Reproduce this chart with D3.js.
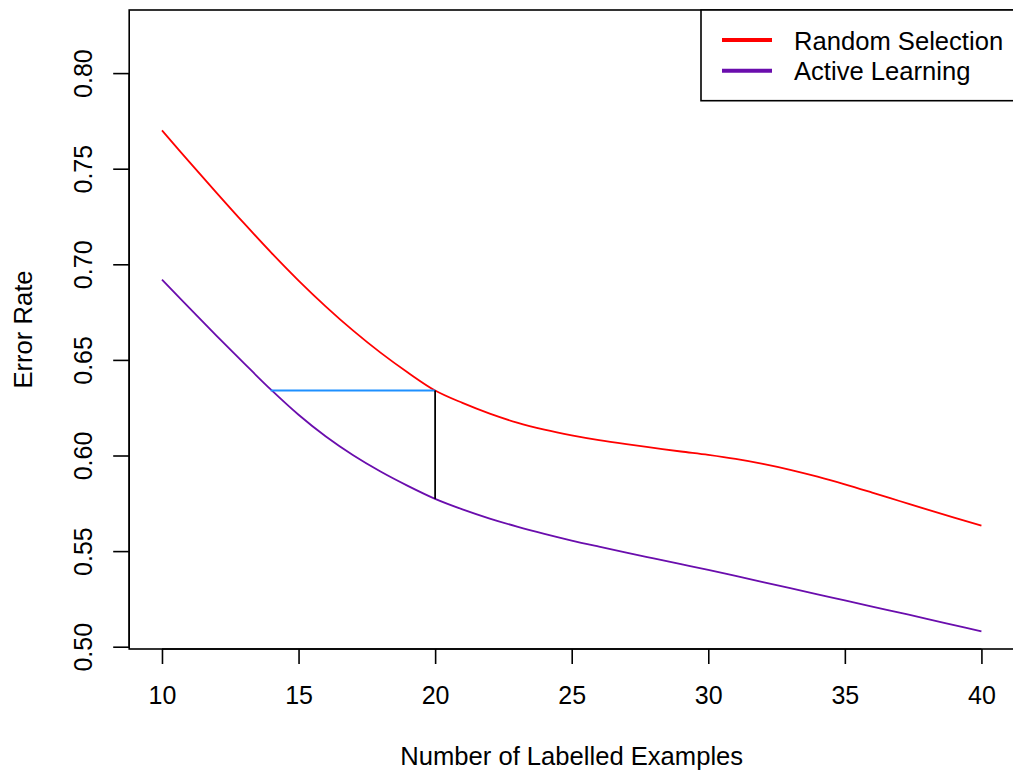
<!DOCTYPE html>
<html>
<head>
<meta charset="utf-8">
<script src="https://cdn.jsdelivr.net/npm/d3@7"></script>
<style>
  html, body { margin: 0; padding: 0; background: #ffffff; }
  svg { display: block; }
  text { font-family: "Liberation Sans", Arial, Helvetica, sans-serif; fill: #000; }
</style>
</head>
<body>
<svg id="chart" width="1013" height="771"></svg>
<script>
// ---- data ----
const labelledExamples = [10,11,12,13,14,15,16,17,18,19,20,21,22,23,24,25,26,27,28,29,30,31,32,33,34,35,36,37,38,39,40];
const randomSelection = [0.7700,0.7536,0.7374,0.7215,0.7061,0.6915,0.6779,0.6653,0.6538,0.6434,0.6340,0.6275,0.6219,0.6172,0.6135,0.6105,0.6080,0.6059,0.6040,0.6021,0.6003,0.5982,0.5956,0.5925,0.5889,0.5849,0.5806,0.5762,0.5718,0.5675,0.5633];
const activeLearning = [0.6920,0.6772,0.6626,0.6483,0.6343,0.6213,0.6099,0.6001,0.5916,0.5841,0.5773,0.5718,0.5670,0.5628,0.5590,0.5555,0.5523,0.5492,0.5462,0.5432,0.5402,0.5370,0.5338,0.5306,0.5274,0.5242,0.5210,0.5178,0.5146,0.5113,0.5080];
const seriesNames = ["Random Selection", "Active Learning"];
const xTicks = [10,15,20,25,30,35,40];
const yTicks = [0.50,0.55,0.60,0.65,0.70,0.75,0.80];
const yTickLabels = ["0.50","0.55","0.60","0.65","0.70","0.75","0.80"];
// highlighted comparison: active learning reaches random-selection error at 20 with ~14 examples
const compareAt = 20;
const matchedAt = 13.98;
const xLabel = "Number of Labelled Examples";
const yLabel = "Error Rate";

// ---- layout ----
const svg = d3.select("#chart");
const pLeft = 129.2, pRight = 1014.2, pTop = 10, pBottom = 649;
const x = d3.scaleLinear().domain([8.8, 41.2]).range([pLeft, pRight]);
const y = d3.scaleLinear().domain([0.4988, 0.833]).range([pBottom, pTop]);
const colors = ["#FF0000", "#6A0DAD"];
const tickFont = 25;
const labelFont = 25.6;

// frame
svg.append("rect")
  .attr("x", pLeft).attr("y", pTop)
  .attr("width", pRight - pLeft).attr("height", pBottom - pTop)
  .attr("fill", "none").attr("stroke", "#000").attr("stroke-width", 1.6);

// x axis
const xAxis = svg.append("g").attr("transform", `translate(0,${pBottom})`)
  .call(d3.axisBottom(x).tickValues(xTicks).tickSize(15).tickSizeOuter(0).tickPadding(22).tickFormat(d3.format("d")));
xAxis.select(".domain").attr("d", `M${x(xTicks[0])},0H${x(xTicks[xTicks.length-1])}`).attr("stroke-width", 1.6);
xAxis.selectAll(".tick line").attr("stroke-width", 1.6);
xAxis.selectAll(".tick text").attr("font-size", tickFont).attr("font-family", "Liberation Sans, Arial, sans-serif").attr("fill", "#000");

// y axis
const yAxis = svg.append("g").attr("transform", `translate(${pLeft},0)`)
  .call(d3.axisLeft(y).tickValues(yTicks).tickSize(16).tickSizeOuter(0).tickFormat((d, i) => yTickLabels[i]));
yAxis.select(".domain").attr("d", `M0,${y(yTicks[0])}V${y(yTicks[yTicks.length-1])}`).attr("stroke-width", 1.6);
yAxis.selectAll(".tick line").attr("stroke-width", 1.6);
yAxis.selectAll(".tick text")
  .attr("font-size", tickFont).attr("font-family", "Liberation Sans, Arial, sans-serif").attr("fill", "#000")
  .attr("x", null).attr("dy", null)
  .attr("text-anchor", "middle")
  .attr("transform", "translate(-37.5,0) rotate(-90)");

// axis titles
svg.append("text").attr("x", (pLeft + pRight) / 2).attr("y", 765)
  .attr("text-anchor", "middle").attr("font-size", labelFont).text(xLabel);
svg.append("text").attr("transform", `translate(31.7,${(pTop + pBottom) / 2}) rotate(-90)`)
  .attr("text-anchor", "middle").attr("font-size", labelFont).text(yLabel);

// curves
const line = d3.line().x(d => x(d[0])).y(d => y(d[1])).curve(d3.curveCatmullRom.alpha(0.5));
[randomSelection, activeLearning].forEach((vals, i) => {
  svg.append("path")
    .datum(labelledExamples.map((e, j) => [e, vals[j]]))
    .attr("d", line)
    .attr("fill", "none").attr("stroke", colors[i]).attr("stroke-width", 1.8);
});

// comparison segments
const idx = labelledExamples.indexOf(compareAt);
svg.append("line")
  .attr("x1", x(matchedAt)).attr("x2", x(compareAt))
  .attr("y1", y(randomSelection[idx])).attr("y2", y(randomSelection[idx]))
  .attr("stroke", "#1E90FF").attr("stroke-width", 1.8);
svg.append("line")
  .attr("x1", x(compareAt)).attr("x2", x(compareAt))
  .attr("y1", y(randomSelection[idx])).attr("y2", y(activeLearning[idx]))
  .attr("stroke", "#000").attr("stroke-width", 1.8);

// legend
const lg = svg.append("g");
lg.append("rect").attr("x", 701).attr("y", pTop).attr("width", 320).attr("height", 100.7 - pTop)
  .attr("fill", "#fff").attr("stroke", "#000").attr("stroke-width", 1.6);
seriesNames.forEach((name, i) => {
  const ly = 40 + i * 30.7;
  lg.append("line").attr("x1", 722).attr("x2", 772).attr("y1", ly).attr("y2", ly)
    .attr("stroke", colors[i]).attr("stroke-width", 4);
  lg.append("text").attr("x", 794).attr("y", ly + 9.6).attr("font-size", labelFont).text(name);
});
</script>
</body>
</html>
